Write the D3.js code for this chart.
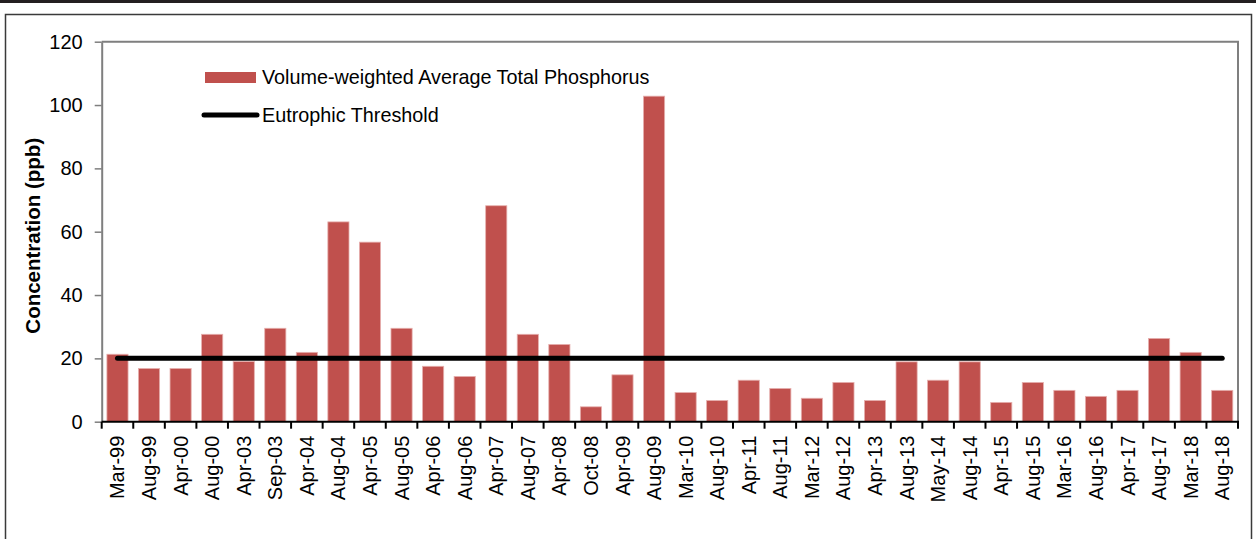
<!DOCTYPE html>
<html>
<head>
<meta charset="utf-8">
<script src="https://cdn.jsdelivr.net/npm/d3@7"></script>
<style>
  body { margin: 0; background: #fff; }
  svg { display: block; font-family: "Liberation Sans", Arial, sans-serif; }
</style>
</head>
<body>
<svg id="chart"></svg>
<script>
// sampling dates
const categories = ['Mar-99', 'Aug-99', 'Apr-00', 'Aug-00', 'Apr-03', 'Sep-03', 'Apr-04', 'Aug-04',
  'Apr-05', 'Aug-05', 'Apr-06', 'Aug-06', 'Apr-07', 'Aug-07', 'Apr-08', 'Oct-08', 'Apr-09', 'Aug-09',
  'Mar-10', 'Aug-10', 'Apr-11', 'Aug-11', 'Mar-12', 'Aug-12', 'Apr-13', 'Aug-13', 'May-14', 'Aug-14',
  'Apr-15', 'Aug-15', 'Mar-16', 'Aug-16', 'Apr-17', 'Aug-17', 'Mar-18', 'Aug-18']

// volume-weighted average total phosphorus (ppb)
const phosphorus = [21.3, 16.8, 16.8, 27.6, 19, 29.5, 21.9, 63.1, 56.7, 29.5, 17.5, 14.3, 68.2, 27.6,
  24.4, 4.7, 14.8, 102.8, 9.2, 6.7, 13.1, 10.5, 7.4, 12.4, 6.7, 18.9, 13.1, 18.9, 6.1, 12.4, 9.9,
  8.0, 9.9, 26.3, 21.9, 9.9]

const eutrophicThreshold = 20
const yTicks = [0, 20, 40, 60, 80, 100, 120]

const width = 1256
const height = 539
const margin = { top: 41.7, right: 18, bottom: 117.3, left: 101.7 }

const svg = d3.select('#chart')
  .attr('width', width)
  .attr('height', height)

// outer frame
svg.append('rect')
  .attr('x', 0).attr('y', 0)
  .attr('width', width).attr('height', 3)
  .attr('fill', '#231f20')

svg.append('path')
  .attr('d', `M5.5,${height + 2} V14.5 H1251.5 V${height + 2}`)
  .attr('fill', 'none')
  .attr('stroke', '#3a3a3a')
  .attr('stroke-width', 1.5)

const x = d3.scaleBand()
  .domain(categories)
  .range([margin.left, width - margin.right])
  .paddingInner(0.33)
  .paddingOuter(0.165)

const y = d3.scaleLinear()
  .domain([0, 120])
  .range([height - margin.bottom, margin.top])

const x0 = margin.left
const x1 = width - margin.right
const yBase = y(0)

// plot frame (top + right)
svg.append('path')
  .attr('d', `M${x0},${y(120)} H${x1} V${yBase}`)
  .attr('fill', 'none')
  .attr('stroke', '#7f7f7f')
  .attr('stroke-width', 2)

// bars
svg.append('g')
  .selectAll('rect')
  .data(phosphorus)
  .enter().append('rect')
  .attr('x', (d, i) => x(categories[i]))
  .attr('y', d => y(d))
  .attr('width', x.bandwidth())
  .attr('height', d => yBase - y(d))
  .attr('fill', '#c0504d')
  .attr('stroke', '#e6b0ae')
  .attr('stroke-width', 0.8)

// threshold line
const line = d3.line()
  .x(d => x(d) + x.bandwidth() / 2)
  .y(() => y(eutrophicThreshold))

svg.append('path')
  .datum(categories)
  .attr('d', line)
  .attr('fill', 'none')
  .attr('stroke', '#000')
  .attr('stroke-width', 5)
  .attr('stroke-linecap', 'round')

// y axis
const yAxis = svg.append('g')
  .attr('transform', `translate(${x0},0)`)
  .call(d3.axisLeft(y).tickValues(yTicks).tickSize(7).tickPadding(12).tickSizeOuter(0))

yAxis.select('.domain').attr('stroke', '#7f7f7f').attr('stroke-width', 2)
yAxis.selectAll('.tick line').attr('stroke', '#7f7f7f').attr('stroke-width', 1.5)
yAxis.selectAll('.tick text')
  .attr('font-size', '20px')
  .attr('font-family', '"Liberation Sans", Arial, sans-serif')
  .attr('fill', '#000')

// x axis: ticks on the category boundaries
const boundaries = categories.map(c => x(c) - x.step() * x.paddingInner() / 2).concat([x1])

svg.append('line')
  .attr('x1', x0).attr('x2', x1 + 1)
  .attr('y1', yBase).attr('y2', yBase)
  .attr('stroke', '#000')
  .attr('stroke-width', 2)

svg.append('g')
  .selectAll('line')
  .data(boundaries)
  .enter().append('line')
  .attr('x1', d => d).attr('x2', d => d)
  .attr('y1', yBase).attr('y2', yBase + 7)
  .attr('stroke', '#000')
  .attr('stroke-width', 2)

svg.append('g')
  .selectAll('text')
  .data(categories)
  .enter().append('text')
  .attr('transform', d => `translate(${x(d) + x.bandwidth() / 2},${yBase + 14}) rotate(-90)`)
  .attr('text-anchor', 'end')
  .attr('dy', '0.35em')
  .attr('font-size', '20px')
  .attr('fill', '#000')
  .text(d => d)

// y axis title
svg.append('text')
  .attr('transform', `translate(33,${(y(120) + yBase) / 2 + 4}) rotate(-90)`)
  .attr('text-anchor', 'middle')
  .attr('dy', '0.35em')
  .attr('font-size', '20.5px')
  .attr('font-weight', 'bold')
  .attr('fill', '#000')
  .text('Concentration (ppb)')

// legend
const legend = svg.append('g')

legend.append('rect')
  .attr('x', 205).attr('y', 72)
  .attr('width', 51).attr('height', 11)
  .attr('fill', '#c0504d')

legend.append('text')
  .attr('x', 262).attr('y', 83.5)
  .attr('font-size', '19.8px')
  .attr('fill', '#000')
  .text('Volume-weighted Average Total Phosphorus')

legend.append('line')
  .attr('x1', 204).attr('x2', 257)
  .attr('y1', 115).attr('y2', 115)
  .attr('stroke', '#000')
  .attr('stroke-width', 5)
  .attr('stroke-linecap', 'round')

legend.append('text')
  .attr('x', 262).attr('y', 121.5)
  .attr('font-size', '19.8px')
  .attr('fill', '#000')
  .text('Eutrophic Threshold')
</script>
</body>
</html>
